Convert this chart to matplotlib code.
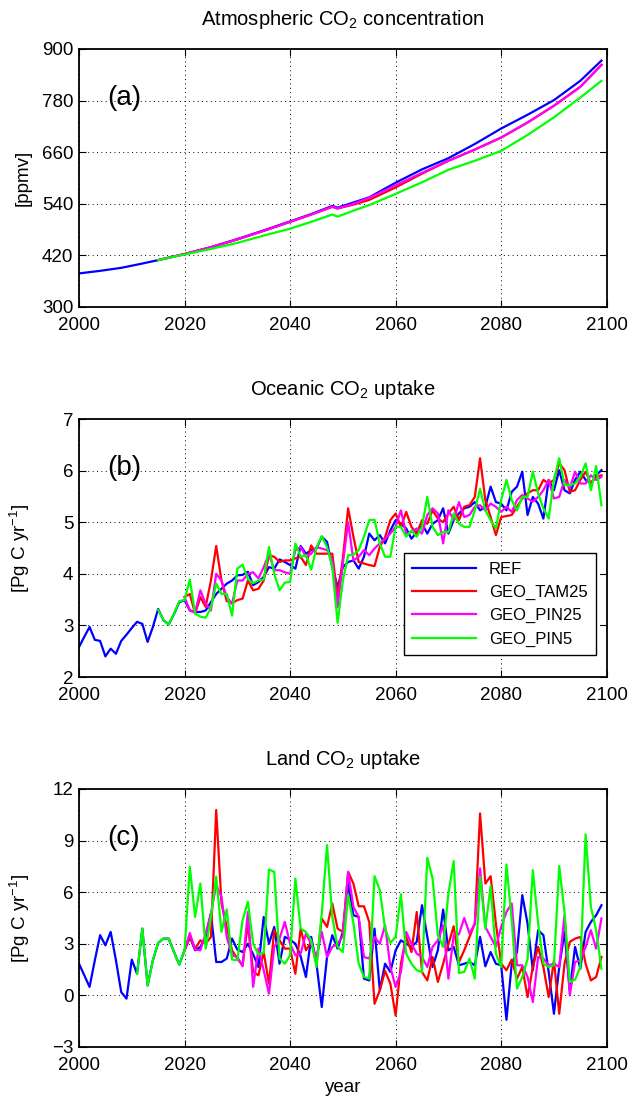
import matplotlib
matplotlib.use('Agg')
import matplotlib.pyplot as plt
import numpy as np

plt.rcParams['font.family'] = ['Liberation Sans', 'DejaVu Sans']
plt.rcParams['mathtext.fontset'] = 'custom'
plt.rcParams['mathtext.rm'] = 'Liberation Sans'
plt.rcParams['mathtext.it'] = 'Liberation Sans:italic'
plt.rcParams['mathtext.bf'] = 'Liberation Sans:bold'

# ---- panel (a): atmospheric CO2 [ppmv] ----
years_a = [2000, 2004, 2008, 2012, 2015, 2020, 2025, 2030, 2035, 2040, 2044, 2048, 2049,
           2052, 2055, 2060, 2065, 2070, 2075, 2080, 2085, 2090, 2095, 2099]
co2_ref = [378, 384, 391, 401, 409, 423, 439, 458, 478, 499, 516, 535, 531,
           543, 555, 589, 620, 646, 679, 715, 747, 781, 826, 873]
co2_tam25 = [None, None, None, None, 409, 423, 439, 457, 477, 498, 515, 533, 529,
             538, 549, 578, 610, 640, 666, 694, 729, 768, 812, 863]
co2_pin25 = [None, None, None, None, 409, 423, 439, 457, 477, 498, 515, 533, 529,
             540, 554, 583, 612, 640, 666, 694, 729, 768, 812, 863]
co2_pin5 = [None, None, None, None, 409, 422, 435, 449, 466, 482, 498, 515, 510,
            524, 537, 563, 590, 619, 640, 663, 700, 741, 787, 826]

# ---- panel (b): oceanic uptake [Pg C/yr], REF 2000-2099 ----
ocean_ref = [2.58, 2.78, 2.97, 2.72, 2.70, 2.40, 2.55, 2.45, 2.70, 2.82,
             2.95, 3.07, 3.03, 2.68, 2.97, 3.32, 3.10, 3.02, 3.22, 3.45,
             3.49, 3.29, 3.26, 3.26, 3.29, 3.45, 3.61, 3.71, 3.81, 3.87,
             3.97, 3.98, 4.04, 3.78, 3.84, 3.94, 4.13, 4.10, 4.28, 4.23,
             4.17, 4.10, 4.54, 4.39, 4.46, 4.49, 4.72, 4.62, 4.13, 3.74,
             4.13, 4.23, 4.26, 4.10, 4.33, 4.78, 4.65, 4.75, 4.59, 4.84,
             5.04, 4.97, 4.88, 4.68, 4.81, 4.97, 4.78, 4.97, 5.04, 5.27,
             4.78, 5.04, 5.17, 5.27, 5.30, 5.39, 5.23, 5.30, 5.69, 5.39,
             5.36, 5.23, 5.59, 5.69, 5.98, 5.14, 5.49, 5.36, 5.07, 5.82,
             5.62, 6.01, 5.62, 5.56, 5.82, 5.98, 5.82, 5.75, 5.91, 6.01]
# GEO_TAM25 and GEO_PIN25 from 2020
ocean_tam25 = [3.55, 3.61, 3.23, 3.55, 3.36, 3.87, 4.54, 3.87, 3.47, 3.43,
               3.49, 3.52, 3.87, 3.68, 3.71, 3.87, 4.36, 4.33, 4.23, 4.26,
               4.26, 4.30, 4.33, 4.17, 4.55, 4.39, 4.39, 4.39, 4.39, 3.55,
               4.30, 5.27, 4.72, 4.23, 4.20, 4.17, 4.15, 4.52, 4.71, 5.04,
               5.17, 4.91, 5.20, 4.91, 4.78, 5.04, 4.97, 5.23, 5.07, 5.00,
               5.17, 5.30, 5.04, 5.30, 5.33, 5.49, 6.24, 5.43, 5.10, 4.75,
               5.10, 5.12, 5.14, 5.30, 5.46, 5.56, 5.62, 5.62, 5.82, 5.75,
               5.82, 6.14, 6.01, 5.59, 5.62, 5.82, 5.98, 5.75, 5.88, 5.91]
ocean_pin25 = [3.55, 3.29, 3.25, 3.68, 3.42, 3.29, 4.00, 3.87, 3.55, 3.42,
               3.87, 3.87, 4.00, 4.03, 3.91, 4.13, 4.39, 4.07, 4.07, 4.03,
               4.00, 4.46, 4.52, 4.33, 4.39, 4.52, 4.49, 4.46, 4.26, 3.35,
               4.20, 5.00, 4.26, 4.33, 4.46, 4.36, 4.49, 4.59, 4.68, 4.78,
               4.91, 5.23, 4.78, 4.81, 4.88, 4.78, 5.14, 5.27, 5.17, 4.59,
               5.23, 5.04, 5.39, 5.10, 5.14, 5.30, 5.33, 5.23, 5.36, 5.30,
               5.20, 5.30, 5.20, 5.43, 5.53, 5.46, 5.40, 5.49, 5.62, 5.82,
               5.46, 5.49, 5.82, 5.66, 5.98, 5.75, 5.75, 5.91, 5.82, 5.88]
# GEO_PIN5 from 2015
ocean_pin5 = [3.30, 3.11, 3.01, 3.23, 3.47,
              3.49, 3.89, 3.23, 3.17, 3.15, 3.34, 3.81, 3.61, 3.61, 3.19,
              4.10, 4.18, 3.90, 3.82, 3.87, 3.89, 4.52, 4.00, 3.68, 3.83,
              3.84, 4.59, 4.33, 4.36, 4.08, 4.51, 4.73, 4.52, 4.13, 3.05,
              3.87, 4.36, 4.37, 4.46, 4.72, 5.04, 5.05, 4.59, 4.33, 4.33,
              4.91, 4.91, 4.72, 4.84, 4.72, 4.91, 5.49, 4.91, 4.75, 4.81,
              4.81, 5.17, 4.97, 4.91, 4.91, 5.23, 5.65, 5.23, 5.04, 4.88,
              5.43, 5.82, 5.43, 5.23, 5.49, 5.49, 5.98, 5.56, 5.27, 5.07,
              5.82, 6.24, 5.72, 5.72, 5.75, 5.88, 6.14, 5.62, 6.09, 5.33]

# ---- panel (c): land uptake [Pg C/yr], REF 2000-2099 ----
land_ref = [1.84, 1.17, 0.49, 2.04, 3.50, 2.91, 3.69, 2.04, 0.19, -0.19,
            2.08, 1.26, 3.88, 0.58, 2.04, 3.05, 3.30, 3.30, 2.52, 1.79,
            2.62, 3.40, 2.62, 2.82, 3.40, 4.76, 1.94, 1.94, 2.14, 3.30,
            2.66, 2.52, 3.00, 2.39, 1.65, 4.56, 3.00, 3.98, 1.84, 3.40,
            3.24, 3.00, 2.27, 1.07, 3.40, 1.84, -0.68, 2.23, 3.50, 2.72,
            3.69, 6.50, 4.66, 4.56, 0.97, 0.87, 3.88, 0.29, 1.84, 1.36,
            2.62, 3.20, 3.00, 2.82, 3.11, 5.24, 3.40, 1.65, 2.62, 4.99,
            2.62, 2.82, 1.75, 1.84, 1.94, 1.75, 3.40, 1.69, 2.52, 1.84,
            1.75, -1.42, 1.84, 2.52, 5.83, 4.17, 1.46, 3.79, 3.50, 1.36,
            -1.07, 1.65, 3.69, 0.29, 2.82, 1.55, 3.69, 4.27, 4.66, 5.24]
# GEO_TAM25 and GEO_PIN25 from 2020
land_tam25 = [2.62, 3.40, 2.72, 3.20, 3.00, 3.40, 10.78, 5.34, 3.98, 2.62,
              2.14, 1.75, 4.17, 1.36, 1.17, 2.52, 0.68, 3.79, 3.20, 2.72,
              2.72, 1.26, 3.88, 2.62, 3.11, 1.84, 4.47, 3.98, 5.34, 3.88,
              3.69, 7.18, 6.50, 5.18, 5.18, 4.27, -0.49, 0.29, 1.42, 0.68,
              -1.17, 1.84, 3.40, 2.52, 4.85, 1.36, 0.87, 2.23, 0.78, 1.84,
              2.97, 4.02, 1.94, 2.62, 3.40, 4.17, 10.58, 6.50, 6.93, 4.17,
              1.84, 1.46, 2.08, 0.97, 1.65, -0.10, 1.65, 2.82, 1.65, -0.10,
              2.04, -1.07, 1.84, 3.11, 3.30, 3.40, 1.84, 0.87, 1.07, 2.23]
land_pin25 = [2.62, 3.63, 2.66, 2.62, 3.59, 4.76, 6.41, 5.73, 3.40, 2.33,
              2.23, 1.69, 4.85, 0.49, 2.72, 1.46, 0.10, 2.82, 3.30, 4.27,
              3.00, 2.33, 2.43, 3.59, 3.00, 2.23, 3.69, 2.23, 2.82, 3.00,
              3.45, 7.18, 5.15, 4.56, 2.23, 2.14, 3.40, 3.00, 4.08, 1.65,
              0.49, 1.36, 3.69, 3.00, 2.43, 2.23, 1.65, 2.82, 3.20, 4.08,
              0.97, 3.50, 3.55, 4.50, 3.59, 4.17, 7.38, 3.98, 3.40, 2.82,
              3.98, 4.85, 5.34, 1.75, 1.75, 1.07, -0.39, 2.23, 2.14, 1.75,
              1.84, 1.65, 4.66, 0.00, 1.94, 2.04, 2.82, 3.79, 2.72, 4.47]
# GEO_PIN5 from 2011
land_pin5 = [1.26, 3.88, 0.58, 2.04, 3.05, 3.30, 3.30, 2.52, 1.79,
             2.62, 7.48, 4.56, 6.50, 2.72, 4.56, 6.90, 3.69, 4.99, 2.08,
             2.04, 4.37, 5.44, 3.00, 2.39, 2.47, 7.32, 7.18, 2.14, 1.84,
             2.33, 6.80, 3.88, 3.69, 3.20, 1.65, 4.76, 8.74, 4.56, 2.82,
             2.52, 5.83, 4.20, 1.84, 1.07, 0.97, 6.93, 6.12, 3.88, 3.05,
             3.40, 5.88, 2.43, 1.84, 1.46, 1.36, 8.00, 6.80, 3.50, 2.82,
             5.92, 7.81, 1.30, 1.36, 2.14, 0.97, 6.89, 3.88, 6.35, 2.43,
             1.65, 7.61, 4.37, 0.39, 1.07, 2.10, 7.28, 4.17, 1.84, 1.65,
             1.75, 7.52, 4.85, 0.78, 0.91, 1.65, 9.36, 5.15, 3.79, 1.55]

labels = ['REF', 'GEO_TAM25', 'GEO_PIN25', 'GEO_PIN5']
colors = ['#0000ff', '#ff0000', '#ff00ff', '#00ff00']

yrs_full = np.arange(2000, 2100)
yrs_2020 = np.arange(2020, 2100)
yrs_2015 = np.arange(2015, 2100)
yrs_2011 = np.arange(2011, 2100)


def a_series(vals):
    pts = [(y, v) for y, v in zip(years_a, vals) if v is not None]
    return [p[0] for p in pts], [p[1] for p in pts]


fig = plt.figure(figsize=(6.32, 11.03), dpi=100)
left, width, height = 0.125, 0.835, 0.2339
axa = fig.add_axes([left, 0.7217, width, height])
axb = fig.add_axes([left, 0.3862, width, height])
axc = fig.add_axes([left, 0.0508, width, height])

lw = 1.6
x, y = a_series(co2_ref)
axa.plot(x, y, color=colors[0], lw=lw)
for vals, c in zip([co2_tam25, co2_pin25, co2_pin5], colors[1:]):
    x, y = a_series(vals)
    axa.plot(x, y, color=c, lw=lw)

axb.plot(yrs_full, ocean_ref, color=colors[0], lw=lw, label=labels[0])
axb.plot(yrs_2020, ocean_tam25, color=colors[1], lw=lw, label=labels[1])
axb.plot(yrs_2020, ocean_pin25, color=colors[2], lw=lw, label=labels[2])
axb.plot(yrs_2015, ocean_pin5, color=colors[3], lw=lw, label=labels[3])

axc.plot(yrs_full, land_ref, color=colors[0], lw=lw)
axc.plot(yrs_2020, land_tam25, color=colors[1], lw=lw)
axc.plot(yrs_2020, land_pin25, color=colors[2], lw=lw)
axc.plot(yrs_2011, land_pin5, color=colors[3], lw=lw)

fs = 13.5
setup = [
    (axa, 'Atmospheric CO$_2$ concentration', '[ppmv]', (300, 900), np.arange(300, 901, 120), '(a)'),
    (axb, 'Oceanic CO$_2$ uptake', '[Pg C yr$^{-1}$]', (2, 7), np.arange(2, 8, 1), '(b)'),
    (axc, 'Land CO$_2$ uptake', '[Pg C yr$^{-1}$]', (-3, 12), np.arange(-3, 13, 3), '(c)'),
]
for ax, title, ylab, ylim, yt, tag in setup:
    ax.set_xlim(2000, 2100)
    ax.set_ylim(*ylim)
    ax.set_xticks(np.arange(2000, 2101, 20))
    ax.set_yticks(yt)
    ax.grid(True, color='black', linestyle=(0, (1, 3.5)), linewidth=0.7)
    ax.tick_params(direction='in', top=True, right=True, length=5, width=0.8,
                   labelsize=fs)
    ax.tick_params(axis='x', pad=7)
    ax.tick_params(axis='y', pad=4)
    for s in ax.spines.values():
        s.set_linewidth(1.3)
    ax.set_title(title, fontsize=14.5, pad=17)
    ax.set_ylabel(ylab, fontsize=fs)
    ax.yaxis.set_label_coords(-0.09, 0.5)
    ax.text(0.053, 0.81, tag, transform=ax.transAxes, fontsize=20, va='center')

axc.set_xlabel('year', fontsize=fs)
axc.xaxis.set_label_coords(0.5, -0.125)

leg = axb.legend(loc='upper left', bbox_to_anchor=(0.616, 0.48), borderaxespad=0,
                 fontsize=12, fancybox=False, framealpha=1, edgecolor='black',
                 handlelength=3.8, labelspacing=0.5, borderpad=0.5)
leg.get_frame().set_linewidth(1.0)

fig.savefig('out.png', dpi=100)
